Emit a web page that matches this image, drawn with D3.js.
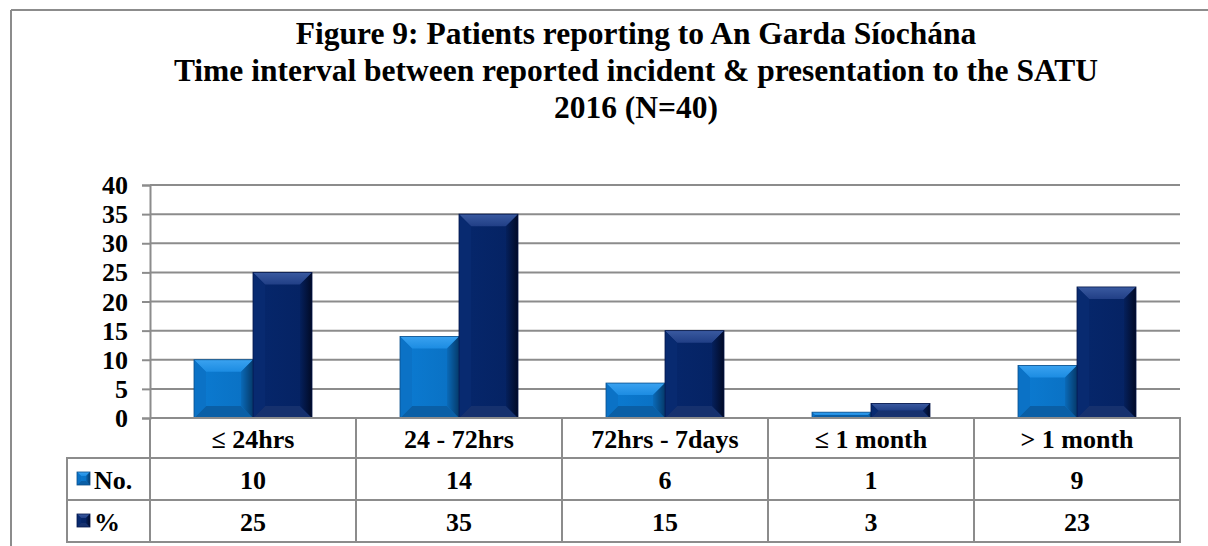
<!DOCTYPE html>
<html>
<head>
<meta charset="utf-8">
<script src="https://cdn.jsdelivr.net/npm/d3@7"></script>
<style>
html,body{margin:0;padding:0;background:#fff;}
svg{display:block;}
text{font-family:"Liberation Serif","Times New Roman",serif;font-weight:bold;fill:#000;}
</style>
</head>
<body>
<svg id="chart" width="1208" height="546"></svg>
<script>
const titleLines = ["Figure 9: Patients reporting to An Garda Síochána",
  "Time interval between reported incident & presentation to the SATU",
  "2016 (N=40)"];
const categories = ["≤ 24hrs", "24 - 72hrs", "72hrs - 7days", "≤ 1 month", "> 1 month"];
const seriesNames = ["No.", "%"];
const noValues = [10, 14, 6, 1, 9];
const pctValues = [25, 35, 15, 2.5, 22.5];
const yTicks = [0, 5, 10, 15, 20, 25, 30, 35, 40];

const svg = d3.select("#chart");
const gridCol = "#8c8c8c";

// gradients for bar sides
const defs = svg.append("defs");
function hGrad(id, c0, c1) {
  const g = defs.append("linearGradient").attr("id", id).attr("x1", "0").attr("x2", "1").attr("y1", "0").attr("y2", "0");
  g.append("stop").attr("offset", "0").attr("stop-color", c0);
  g.append("stop").attr("offset", "1").attr("stop-color", c1);
}
function vGrad(id, c0, c1) {
  const g = defs.append("linearGradient").attr("id", id).attr("x1", "0").attr("x2", "0").attr("y1", "0").attr("y2", "1");
  g.append("stop").attr("offset", "0").attr("stop-color", c0);
  g.append("stop").attr("offset", "1").attr("stop-color", c1);
}
hGrad("rNo", "#0a6ab8", "#053a6a");
hGrad("rPct", "#05205c", "#010a26");
hGrad("fNo", "#0b7bd2", "#0a70c2");
hGrad("fPct", "#06276c", "#052262");
vGrad("tNo", "#3aa2f0", "#1c8ce2");
vGrad("tPct", "#3a5aa0", "#213f86");

// outer frame
svg.append("line").attr("x1", 11).attr("x2", 1208).attr("y1", 10).attr("y2", 10)
  .attr("stroke", "#8c8c8c").attr("stroke-width", 2);
svg.append("line").attr("x1", 11).attr("x2", 11).attr("y1", 10).attr("y2", 546)
  .attr("stroke", "#8c8c8c").attr("stroke-width", 2);

// title
svg.selectAll("text.title").data(titleLines).enter().append("text")
  .attr("class", "title")
  .attr("x", 636).attr("y", (d, i) => 44 + i * 37)
  .attr("text-anchor", "middle")
  .style("font-size", "31.5px")
  .text(d => d);

const x = d3.scaleBand().domain(categories).range([150, 1180]).padding(0);
const y = d3.scaleLinear().domain([0, 40]).range([418, 185]);
const inner = d3.scaleBand().domain(seriesNames).range([44, 162]).padding(0);

// gridlines
svg.append("g").selectAll("line").data(yTicks.filter(t => t > 0)).enter().append("line")
  .attr("x1", 150).attr("x2", 1180)
  .attr("y1", d => y(d)).attr("y2", d => y(d))
  .attr("stroke", gridCol).attr("stroke-width", 2);

// y axis
const yAxis = d3.axisLeft(y).tickValues(yTicks).tickSize(8).tickPadding(14).tickFormat(d3.format("d"));
const ga = svg.append("g").attr("transform", "translate(150,0)").call(yAxis);
ga.select(".domain").attr("stroke", gridCol).attr("stroke-width", 2);
ga.selectAll(".tick line").attr("stroke", gridCol).attr("stroke-width", 2);
ga.selectAll(".tick text").style("font-size", "26px").style("font-family", "'Liberation Serif',serif")
  .style("font-weight", "bold").attr("fill", "#000").attr("dy", "0.33em");

// bars
const palettes = {
  "No.": {face: "url(#fNo)", top: "url(#tNo)", left: "#0b72c6", right: "url(#rNo)", bottom: "#0a5fa6", stroke: "#0b4f8a"},
  "%": {face: "url(#fPct)", top: "url(#tPct)", left: "#082a70", right: "url(#rPct)", bottom: "#16316e", stroke: "#04164a"}
};
const barData = [];
categories.forEach((c, i) => {
  barData.push({cat: c, s: "No.", v: noValues[i]});
  barData.push({cat: c, s: "%", v: pctValues[i]});
});

function bevel(g, x0, y0, w, h, p, bmax) {
  const x1 = x0 + w, y1 = y0 + h;
  const b = Math.min(bmax, h / 2, w / 2);
  const polys = [
    [[x0, y0], [x1, y0], [x1, y1], [x0, y1]],
    [[x0, y0], [x1, y0], [x1 - b, y0 + b], [x0 + b, y0 + b]],
    [[x0, y1], [x1, y1], [x1 - b, y1 - b], [x0 + b, y1 - b]],
    [[x0, y0], [x0 + b, y0 + b], [x0 + b, y1 - b], [x0, y1]],
    [[x1, y0], [x1 - b, y0 + b], [x1 - b, y1 - b], [x1, y1]]
  ];
  const cols = [p.face, p.top, p.bottom, p.left, p.right];
  polys.forEach((pt, k) => {
    g.append("polygon").attr("points", pt.map(q => q.join(",")).join(" ")).attr("fill", cols[k]);
  });
  g.append("rect").attr("x", x0).attr("y", y0).attr("width", w).attr("height", h)
    .attr("fill", "none").attr("stroke", p.stroke).attr("stroke-width", 0.8);
}

const gb = svg.append("g");
barData.forEach(d => {
  const x0 = x(d.cat) + inner(d.s);
  const y0 = y(d.v);
  bevel(gb, x0, y0, inner.bandwidth(), y(0) - y0, palettes[d.s], 12);
});

// data table
const tg = svg.append("g");
const rowTop = 418, rowCat = 458, row1 = 500, row2 = 542, legLeft = 67;
const bounds = categories.map(c => x(c)).concat([x.range()[1]]);
bounds.forEach(b => {
  tg.append("line").attr("x1", b).attr("x2", b).attr("y1", rowTop).attr("y2", row2)
    .attr("stroke", gridCol).attr("stroke-width", 2);
});
tg.append("line").attr("x1", legLeft).attr("x2", legLeft).attr("y1", rowCat).attr("y2", row2)
  .attr("stroke", gridCol).attr("stroke-width", 2);
[rowCat, row1, row2].forEach(yy => {
  tg.append("line").attr("x1", legLeft - 1).attr("x2", 1181).attr("y1", yy).attr("y2", yy)
    .attr("stroke", gridCol).attr("stroke-width", 2);
});
tg.append("line").attr("x1", 150).attr("x2", 1181).attr("y1", rowTop).attr("y2", rowTop)
  .attr("stroke", gridCol).attr("stroke-width", 2);

tg.selectAll("text.cat").data(categories).enter().append("text")
  .attr("x", d => x(d) + x.bandwidth() / 2).attr("y", 448)
  .attr("text-anchor", "middle").style("font-size", "26px").text(d => d);
tg.selectAll("text.no").data(noValues).enter().append("text")
  .attr("x", (d, i) => x(categories[i]) + x.bandwidth() / 2).attr("y", 489)
  .attr("text-anchor", "middle").style("font-size", "26px").text(d => d3.format("d")(d));
tg.selectAll("text.pct").data(pctValues).enter().append("text")
  .attr("x", (d, i) => x(categories[i]) + x.bandwidth() / 2).attr("y", 531)
  .attr("text-anchor", "middle").style("font-size", "26px").text(d => Math.round(d));

seriesNames.forEach((s, i) => {
  const yc = [rowCat, row1][i];
  bevel(tg, 77, yc + 14, 13, 13, palettes[s], 4);
  tg.append("text").attr("x", 94).attr("y", yc + 31).style("font-size", "26px").text(s);
});
</script>
</body>
</html>
